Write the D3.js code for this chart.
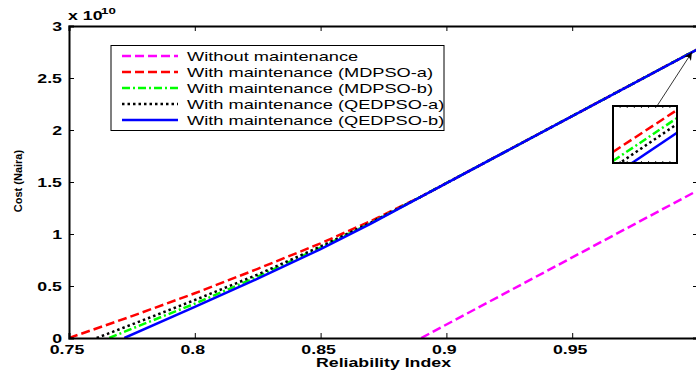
<!DOCTYPE html>
<html><head><meta charset="utf-8">
<script src="https://cdn.jsdelivr.net/npm/d3@7"></script>
<style>body{margin:0;background:#fff;}svg{display:block;font-family:"Liberation Sans",Arial,sans-serif;}</style>
</head><body><svg id="c" width="696" height="371"></svg>
<script>
// ---------- data (cost in units of 1e10 Naira) ----------
const xTicks = [0.75, 0.8, 0.85, 0.9, 0.95];
const xTickLabels = ["0.75", "0.8", "0.85", "0.9", "0.95"];
const yTicks = [0, 0.5, 1, 1.5, 2, 2.5, 3];
const yTickLabels = ["0", "0.5", "1", "1.5", "2", "2.5", "3"];
const seriesNames = ["Without maintenance", "With maintenance (MDPSO-a)", "With maintenance (MDPSO-b)",
                     "With maintenance (QEDPSO-a)", "With maintenance (QEDPSO-b)"];
const xWithout = [0.89, 0.95, 1.0];
const yWithout = [0, 0.775, 1.42];
const xMDPSOa = [0.75, 0.775, 0.80, 0.825, 0.85, 0.87, 0.89, 0.95, 1.0];
const yMDPSOa = [0, 0.21, 0.43, 0.665, 0.91, 1.125, 1.36, 2.134, 2.779];
const xMDPSOb = [0.766, 0.775, 0.80, 0.825, 0.85, 0.87, 0.89, 0.95, 1.0];
const yMDPSOb = [0, 0.09, 0.33, 0.59, 0.87, 1.105, 1.36, 2.134, 2.779];
const xQEDPSOa = [0.761, 0.775, 0.80, 0.825, 0.85, 0.87, 0.89, 0.95, 1.0];
const yQEDPSOa = [0, 0.13, 0.365, 0.61, 0.88, 1.11, 1.36, 2.134, 2.779];
const xQEDPSOb = [0.772, 0.80, 0.825, 0.85, 0.87, 0.89, 0.95, 1.0];
const yQEDPSOb = [0, 0.30, 0.57, 0.855, 1.10, 1.36, 2.134, 2.779];
// zoomed inset near the end of the curves
const insetX = [0.9970, 0.9980];
const insetYDomain = [2.7600, 2.7770];
const insetMDPSOa = [2.7633, 2.7758];
const insetMDPSOb = [2.7606, 2.7734];
const insetQEDPSOa = [2.7586, 2.7716];
const insetQEDPSOb = [2.7562, 2.7690];
const arrowTipX = 0.9976;

// ---------- styles ----------
const styles = [
  {color: "#ff00ff", dash: "9,4"},
  {color: "#ff0000", dash: "9,4"},
  {color: "#00ff00", dash: "8,3,2,3"},
  {color: "#000000", dash: "2.5,3"},
  {color: "#0000ff", dash: null}
];
const SX = 1.48; // horizontal text stretch of the reference

const svg = d3.select("#c");
const L = 69, R = 698, T = 26, B = 338;
const x = d3.scaleLinear().domain([0.75, 1.0]).range([L, R]);
const y = d3.scaleLinear().domain([0, 3]).range([B, T]);

svg.append("defs").append("clipPath").attr("id", "plotclip")
  .append("rect").attr("x", L).attr("y", T).attr("width", R - L).attr("height", B - T);

const series = [
  [xWithout, yWithout], [xMDPSOa, yMDPSOa], [xMDPSOb, yMDPSOb], [xQEDPSOa, yQEDPSOa], [xQEDPSOb, yQEDPSOb]
];
const line = d3.line().x(d => x(d[0])).y(d => y(d[1]));
const gLines = svg.append("g").attr("clip-path", "url(#plotclip)");
series.forEach((s, i) => {
  const pts = s[0].map((v, k) => [v, s[1][k]]);
  gLines.append("path").attr("d", line(pts)).attr("fill", "none")
    .attr("stroke", styles[i].color).attr("stroke-width", 2.5)
    .attr("stroke-dasharray", styles[i].dash);
});

// axes
function stretchText(g, tx, ty, txt, anchor, size, weight, sx) {
  return g.append("text").attr("transform", `translate(${tx},${ty}) scale(${sx || SX},1)`)
    .attr("text-anchor", anchor).attr("font-size", size).attr("font-weight", weight)
    .attr("fill", "#000").text(txt);
}
const gAx = svg.append("g");
const xAxisB = d3.axisBottom(x).tickValues(xTicks).tickSize(-5).tickFormat("");
const xAxisT = d3.axisTop(x).tickValues(xTicks).tickSize(-5).tickFormat("");
const yAxisL = d3.axisLeft(y).tickValues(yTicks).tickSize(-5).tickFormat("");
const yAxisR = d3.axisRight(y).tickValues(yTicks).tickSize(-5).tickFormat("");
[[xAxisB, `translate(0,${B})`], [xAxisT, `translate(0,${T})`], [yAxisL, `translate(${L},0)`], [yAxisR, `translate(${R},0)`]]
  .forEach(([ax, tr]) => {
    const g = gAx.append("g").attr("transform", tr).call(ax);
    g.select(".domain").attr("stroke", "#000").attr("stroke-width", 2);
    g.selectAll(".tick line").attr("stroke", "#000").attr("stroke-width", 1);
  });
xTicks.forEach((v, i) => stretchText(gAx, x(v) - 2, 354, xTickLabels[i], "middle", 12, "bold"));
yTicks.forEach((v, i) => stretchText(gAx, 62, y(v) + 4.5, yTickLabels[i], "end", 12, "bold"));
stretchText(gAx, (L + R) / 2, 367, "Reliability Index", "middle", 12, "bold");
gAx.append("text").attr("transform", `translate(22,181) scale(1.05,1) rotate(-90)`)
  .attr("text-anchor", "middle").attr("font-size", 11).attr("font-weight", "bold").text("Cost (Naira)");
stretchText(gAx, 68, 20, "x 10", "start", 12, "bold");
stretchText(gAx, 101, 14, "10", "start", 9, "bold");

// legend
const gLeg = svg.append("g");
gLeg.append("rect").attr("x", 111).attr("y", 45.5).attr("width", 333).attr("height", 85)
  .attr("fill", "#fff").attr("stroke", "#000").attr("stroke-width", 1);
seriesNames.forEach((n, i) => {
  const yy = 56 + i * 16;
  gLeg.append("line").attr("x1", 122).attr("x2", 178).attr("y1", yy).attr("y2", yy)
    .attr("stroke", styles[i].color).attr("stroke-width", 2.5).attr("stroke-dasharray", styles[i].dash);
  stretchText(gLeg, 187, yy + 4.5, n, "start", 12, "normal", 1.52);
});

// inset
const IL = 613, IR = 677, IT = 106, IB = 163;
const ix = d3.scaleLinear().domain(insetX).range([IL, IR]);
const iy = d3.scaleLinear().domain(insetYDomain).range([IB, IT]);
const gIn = svg.append("g");
svg.select("defs").append("clipPath").attr("id", "insetclip")
  .append("rect").attr("x", IL).attr("y", IT).attr("width", IR - IL).attr("height", IB - IT);
gIn.append("rect").attr("x", IL).attr("y", IT).attr("width", IR - IL).attr("height", IB - IT).attr("fill", "#fff");
const insetSeries = [insetMDPSOa, insetMDPSOb, insetQEDPSOa, insetQEDPSOb];
const iline = d3.line().x(d => ix(d[0])).y(d => iy(d[1]));
const gInL = gIn.append("g").attr("clip-path", "url(#insetclip)");
insetSeries.forEach((s, i) => {
  gInL.append("path").attr("d", iline(insetX.map((v, k) => [v, s[k]]))).attr("fill", "none")
    .attr("stroke", styles[i + 1].color).attr("stroke-width", 2.5).attr("stroke-dasharray", styles[i + 1].dash);
});
const itx = d3.range(insetX[0], insetX[1] + 1e-9, (insetX[1] - insetX[0]) / 9);
itx.forEach(v => {
  gIn.append("line").attr("x1", ix(v)).attr("x2", ix(v)).attr("y1", IT).attr("y2", IT + 2).attr("stroke", "#000").attr("stroke-width", 0.8);
  gIn.append("line").attr("x1", ix(v)).attr("x2", ix(v)).attr("y1", IB).attr("y2", IB - 2).attr("stroke", "#000").attr("stroke-width", 0.8);
});
gIn.append("rect").attr("x", IL).attr("y", IT).attr("width", IR - IL).attr("height", IB - IT)
  .attr("fill", "none").attr("stroke", "#000").attr("stroke-width", 2);

// arrow
const tipY = d3.scaleLinear().domain([0.95, 1.0]).range([2.134, 2.779])(arrowTipX);
svg.select("defs").append("marker").attr("id", "ah").attr("viewBox", "0 0 10 10").attr("refX", 10).attr("refY", 5)
  .attr("markerWidth", 11).attr("markerHeight", 8).attr("markerUnits", "userSpaceOnUse").attr("orient", "auto")
  .append("path").attr("d", "M0,0 L10,5 L0,10 L3,5 Z").attr("fill", "#000");
svg.append("line").attr("x1", 657).attr("y1", IT).attr("x2", x(arrowTipX)).attr("y2", y(tipY))
  .attr("stroke", "#000").attr("stroke-width", 0.8).attr("marker-end", "url(#ah)");
</script></body></html>
